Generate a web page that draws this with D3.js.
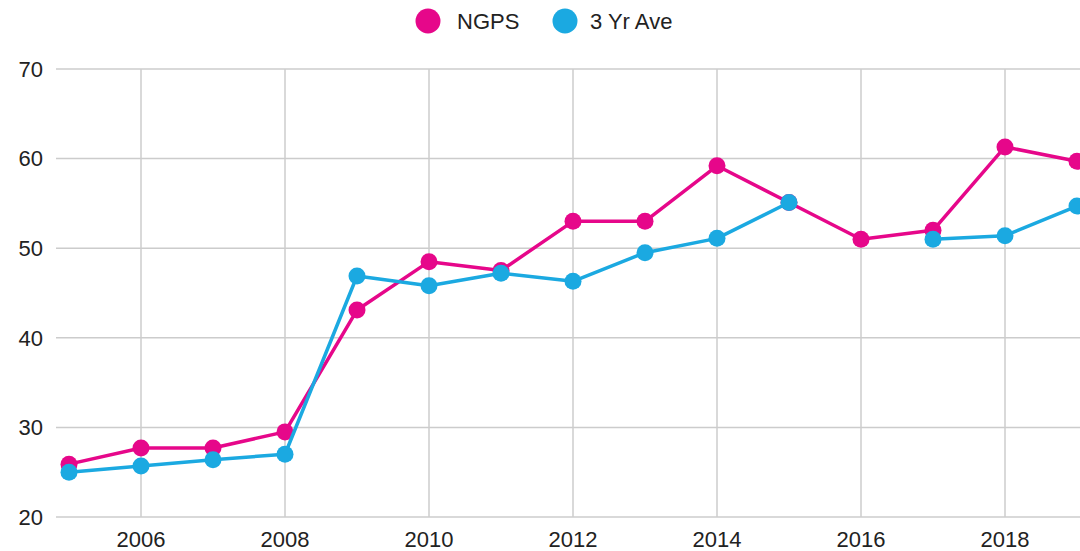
<!DOCTYPE html>
<html>
<head>
<meta charset="utf-8">
<script src="https://cdn.jsdelivr.net/npm/d3@7"></script>
<style>
  body { margin: 0; background: #fff; }
  svg { display: block; }
</style>
</head>
<body>
<div id="chart"></div>
<script>
//          Chart data (null = no value that year)
var years = [2005, 2006, 2007, 2008, 2009, 2010, 2011, 2012, 2013, 2014, 2015, 2016, 2017, 2018, 2019];
var ngps = [25.9, 27.7, 27.7, 29.5, 43.1, 48.5, 47.5, 53.0, 53.0, 59.2, 55.1, 51.0, 52.0, 61.3, 59.7];
var threeYrAve = [25.0, 25.7, 26.4, 27.0, 46.9, 45.8, 47.2, 46.3, 49.5, 51.1, 55.1, null, 51.0, 51.4, 54.7];
var yTicks = [20, 30, 40, 50, 60, 70];
var xTicks = [2006, 2008, 2010, 2012, 2014, 2016, 2018];
var seriesNames = ["NGPS", "3 Yr Ave"];

//          Chart settings
var w = 1080, h = 551;
var pink = "#e6078a", blue = "#1ba9e1";
var font = "'Liberation Sans', Arial, sans-serif";

var svg = d3.select("#chart").append("svg")
    .attr("width", w)
    .attr("height", h);

var x = d3.scaleLinear().domain([2005, 2019]).range([69, 1077]);
var y = d3.scaleLinear().domain([20, 70]).range([517, 69]);

//          Grid
svg.selectAll("line.hgrid").data(yTicks).enter().append("line")
    .attr("class", "hgrid")
    .attr("x1", 56).attr("x2", w)
    .attr("y1", function(d) { return y(d); })
    .attr("y2", function(d) { return y(d); })
    .style("stroke", "#cccccc")
    .style("stroke-width", 1.5);

svg.selectAll("line.vgrid").data(xTicks).enter().append("line")
    .attr("class", "vgrid")
    .attr("x1", function(d) { return x(d); })
    .attr("x2", function(d) { return x(d); })
    .attr("y1", y(70)).attr("y2", y(20))
    .style("stroke", "#cccccc")
    .style("stroke-width", 1.5);

//          Axis labels
svg.selectAll("text.ylab").data(yTicks).enter().append("text")
    .attr("class", "ylab")
    .text(function(d) { return d; })
    .attr("x", 43)
    .attr("y", function(d) { return y(d); })
    .attr("dy", "0.35em")
    .attr("text-anchor", "end")
    .style("font-family", font)
    .style("font-size", "22px")
    .style("fill", "#222");

svg.selectAll("text.xlab").data(xTicks).enter().append("text")
    .attr("class", "xlab")
    .text(function(d) { return d; })
    .attr("x", function(d) { return x(d); })
    .attr("y", 547)
    .attr("text-anchor", "middle")
    .style("font-family", font)
    .style("font-size", "22px")
    .style("fill", "#222");

//          Lines and points
function drawSeries(values, color) {
    var line = d3.line()
        .defined(function(d) { return d != null; })
        .x(function(d, i) { return x(years[i]); })
        .y(function(d) { return y(d); });

    svg.append("path")
        .datum(values)
        .attr("d", line)
        .style("fill", "none")
        .style("stroke", color)
        .style("stroke-width", 3.5)
        .style("stroke-linejoin", "round");

    var pts = values.map(function(v, i) { return [years[i], v]; })
        .filter(function(p) { return p[1] != null; });

    svg.append("g").selectAll("circle").data(pts).enter().append("circle")
        .attr("cx", function(d) { return x(d[0]); })
        .attr("cy", function(d) { return y(d[1]); })
        .attr("r", 8.5)
        .style("fill", color);
}
drawSeries(ngps, pink);
drawSeries(threeYrAve, blue);

//          Legend
var legend = [
    { name: seriesNames[0], color: pink, cx: 428, tx: 457 },
    { name: seriesNames[1], color: blue, cx: 565, tx: 590 }
];
var lg = svg.append("g");
lg.selectAll("circle").data(legend).enter().append("circle")
    .attr("cx", function(d) { return d.cx; })
    .attr("cy", 21)
    .attr("r", 12.5)
    .style("fill", function(d) { return d.color; });
lg.selectAll("text").data(legend).enter().append("text")
    .text(function(d) { return d.name; })
    .attr("x", function(d) { return d.tx; })
    .attr("y", 21)
    .attr("dy", "0.35em")
    .style("font-family", font)
    .style("font-size", "22px")
    .style("fill", "#222");
</script>
</body>
</html>
